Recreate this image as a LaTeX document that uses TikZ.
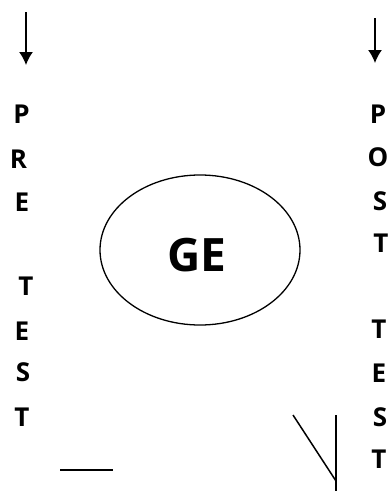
\documentclass[tikz,border=0pt]{standalone}
\usepackage{fontspec}
\setmainfont{Open Sans}
\usetikzlibrary{arrows.meta,shapes.geometric}

\tikzset{
  letter/.style={inner sep=0pt, font=\fontsize{26}{26}\selectfont\bfseries},
  stroke/.style={line width=1.5pt}
}

\begin{document}
\begin{tikzpicture}[x=1pt,y=-1pt]
   \useasboundingbox (0,0) rectangle (390,491);
   % left column
   \node[letter] (p1) at (21.5,114) {P};
   \node[letter] (r1) at (18.5,159) {R};
   \node[letter] (e1) at (22,202) {E};
   \node[letter] (t1) at (26,286) {T};
   \node[letter] (e2) at (22,331) {E};
   \node[letter] (s1) at (23,372) {S};
   \node[letter] (t2) at (22,417) {T};
   % right column
   \node[letter] (p2) at (378,114) {P};
   \node[letter] (o2) at (378,157) {O};
   \node[letter] (s2) at (380,201) {S};
   \node[letter] (t3) at (381,243) {T};
   \node[letter] (t4) at (379,329) {T};
   \node[letter] (e4) at (379,373) {E};
   \node[letter] (s4) at (380,417) {S};
   \node[letter] (t5) at (379,459) {T};
   % middle
   \node[ellipse, draw, line width=1.3pt, minimum width=200pt, minimum height=150pt, inner sep=0pt] (ge) at (200,250) {};
   \node[inner sep=0pt, font=\fontsize{46}{46}\selectfont\bfseries] (getext) at (197,255) {GE};
   % arrows
   \coordinate (a1) at (26,12);
   \coordinate (a2) at (26,65);
   \coordinate (b1) at (375,18);
   \coordinate (b2) at (375,63);
   \draw[stroke,-{Latex[length=13pt,width=14pt]}] (a1) -- (a2);
   \draw[stroke,-{Latex[length=13pt,width=14pt]}] (b1) -- (b2);
   % lines at the bottom
   \coordinate (l1) at (60,470);
   \coordinate (l2) at (113,470);
   \coordinate (m1) at (293,415);
   \coordinate (m2) at (336,481);
   \coordinate (n1) at (336,415);
   \coordinate (n2) at (336,491);
   \draw[stroke] (l1) -- (l2);
   \draw[stroke] (m1) -- (m2);
   \draw[stroke] (n1) -- (n2);
\end{tikzpicture}
\end{document}
